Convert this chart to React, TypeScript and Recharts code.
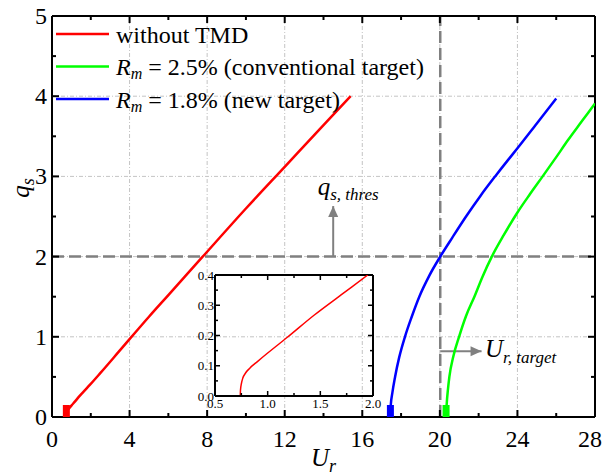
import React from "react";
import { LineChart, Line, XAxis, YAxis, ReferenceLine, ReferenceDot, Legend } from "recharts";

const FONT = "'Liberation Serif', 'Times New Roman', Tinos, 'DejaVu Serif', serif";

// main axes (ticks without a label are the minor ones)
const urTicks = [0, 2, 4, 6, 8, 10, 12, 14, 16, 18, 20, 22, 24, 26, 28];
const qsTicks = [0, 0.5, 1, 1.5, 2, 2.5, 3, 3.5, 4, 4.5, 5];
const urGrid = [4, 8, 12, 16, 20, 24];
const qsGrid = [1, 2, 3, 4];

// without TMD
const redUr = [0.74, 0.742, 0.75, 0.765, 0.79, 0.83, 0.9, 1.0, 1.19, 1.44, 1.7, 1.95, 2.5, 3.5, 5, 6, 7.7, 10, 12, 14, 15.4];
const redQs = [0, 0.02, 0.04, 0.06, 0.076, 0.092, 0.113, 0.142, 0.195, 0.267, 0.335, 0.4, 0.55, 0.83, 1.25, 1.52, 1.98, 2.6, 3.12, 3.64, 4.0];
// Rm = 2.5 %
const greenUr = [20.32, 20.35, 20.42, 20.49, 20.7, 20.99, 21.35, 21.78, 22.2, 22.68, 23.3, 24.0, 24.65, 25.3, 26.0, 26.6, 27.3, 28.0];
const greenQs = [0, 0.15, 0.35, 0.5, 0.76, 1.0, 1.26, 1.5, 1.75, 2.0, 2.27, 2.55, 2.78, 3.0, 3.24, 3.45, 3.68, 3.91];
// Rm = 1.8 %
const blueUr = [17.45, 17.47, 17.55, 17.69, 17.9, 18.2, 18.55, 18.94, 19.45, 20.02, 20.65, 21.35, 22.1, 22.85, 23.5, 24.0, 25.0, 26.0];
const blueQs = [0, 0.15, 0.3, 0.5, 0.74, 1.0, 1.25, 1.5, 1.76, 2.0, 2.24, 2.5, 2.76, 3.0, 3.2, 3.35, 3.66, 3.97];

const qsThres = 2;
const urTarget = 20.02;
const upArrowUr = [14.5, 14.5];
const upArrowQs = [2, 2.63];
const rightArrowUr = [20.02, 22.15];
const rightArrowQs = [0.82, 0.82];

// inset
const insetUrTicks = [0.5, 0.75, 1.0, 1.25, 1.5, 1.75, 2.0];
const insetQsTicks = [0, 0.05, 0.1, 0.15, 0.2, 0.25, 0.3, 0.35, 0.4];

const legendColors = ["#ff0000", "#00ff00", "#0000ff"];
const legendRm = [null, "2.5%", "1.8%"];
const legendNotes = ["without TMD", "(conventional target)", "(new target)"];

const toPoints = (xs: number[], ys: number[]) => xs.map((x, i) => ({ x, y: ys[i] }));
const red = toPoints(redUr, redQs);
const green = toPoints(greenUr, greenQs);
const blue = toPoints(blueUr, blueQs);
const upArrow = toPoints(upArrowUr, upArrowQs);
const rightArrow = toPoints(rightArrowUr, rightArrowQs);

const PLOT_TOP = 16;
const PLOT_RIGHT = 595;
const INSET_TOP = 15;
const INSET_RIGHT = 198;

const txt = { fontFamily: FONT, fill: "#000" };

function MainXTick(props: any) {
  const { x, y, payload } = props;
  const v = payload.value;
  const major = v % 4 === 0;
  const len = major ? 7 : 4;
  return (
    <g>
      <line x1={x} y1={y} x2={x} y2={y - len} stroke="#000" strokeWidth={2} />
      <line x1={x} y1={PLOT_TOP} x2={x} y2={PLOT_TOP + len} stroke="#000" strokeWidth={2} />
      {major && (
        <text x={Math.min(x, 590)} y={y + 30} textAnchor="middle" fontSize={24} style={txt}>{v}</text>
      )}
    </g>
  );
}

function MainYTick(props: any) {
  const { x, y, payload } = props;
  const v = payload.value;
  const major = Number.isInteger(v);
  const len = major ? 7 : 4;
  return (
    <g>
      <line x1={x} y1={y} x2={x + len} y2={y} stroke="#000" strokeWidth={2} />
      <line x1={PLOT_RIGHT - len} y1={y} x2={PLOT_RIGHT} y2={y} stroke="#000" strokeWidth={2} />
      {major && (
        <text x={x - 5} y={y + 8} textAnchor="end" fontSize={24} style={txt}>{v}</text>
      )}
    </g>
  );
}

function InsetXTick(props: any) {
  const { x, y, payload } = props;
  const v = payload.value;
  const major = Math.abs(v * 2 - Math.round(v * 2)) < 1e-6;
  const len = major ? 5 : 3;
  return (
    <g>
      <line x1={x} y1={y} x2={x} y2={y - len} stroke="#000" strokeWidth={1.5} />
      <line x1={x} y1={INSET_TOP} x2={x} y2={INSET_TOP + len} stroke="#000" strokeWidth={1.5} />
      {major && (
        <text x={x} y={y + 12} textAnchor="middle" fontSize={13} style={txt}>{v.toFixed(1)}</text>
      )}
    </g>
  );
}

function InsetYTick(props: any) {
  const { x, y, payload } = props;
  const v = payload.value;
  const major = Math.abs(v * 10 - Math.round(v * 10)) < 1e-6;
  const len = major ? 5 : 3;
  return (
    <g>
      <line x1={x} y1={y} x2={x + len} y2={y} stroke="#000" strokeWidth={1.5} />
      <line x1={INSET_RIGHT - len} y1={y} x2={INSET_RIGHT} y2={y} stroke="#000" strokeWidth={1.5} />
      {major && (
        <text x={x - 1} y={y + 4.5} textAnchor="end" fontSize={13} style={txt}>{v.toFixed(1)}</text>
      )}
    </g>
  );
}

const startMarker = (color: string) => (props: any) => {
  const { cx, cy, index } = props;
  if (index !== 0) return <g key={`d-${index}`} />;
  return <rect key={`d-${index}`} x={cx - 3.5} y={cy - 12} width={7} height={12} fill={color} />;
};

const arrowHead = (dir: "up" | "right") => (props: any) => {
  const { cx, cy, index } = props;
  if (index !== 1) return <g key={`a-${index}`} />;
  const pts =
    dir === "up"
      ? `${cx},${cy} ${cx - 5},${cy + 11} ${cx + 5},${cy + 11}`
      : `${cx},${cy} ${cx - 11},${cy - 5} ${cx - 11},${cy + 5}`;
  return <polygon key={`a-${index}`} points={pts} fill="#808080" />;
};

function UrTitle(props: any) {
  const { viewBox } = props;
  const x = viewBox.x + viewBox.width / 2;
  const y = viewBox.y + 49;
  return (
    <text x={x} y={y} textAnchor="middle" style={txt}>
      <tspan fontStyle="italic" fontSize={25}>U</tspan>
      <tspan fontStyle="italic" fontSize={18} dy={6}>r</tspan>
    </text>
  );
}

function QsTitle(props: any) {
  const { viewBox } = props;
  const x = viewBox.x + 17;
  const y = 188;
  return (
    <text x={x} y={y} textAnchor="middle" transform={`rotate(-90, ${x}, ${y})`} style={txt}>
      <tspan fontStyle="italic" fontSize={25}>q</tspan>
      <tspan fontStyle="italic" fontSize={18} dy={5}>s</tspan>
    </text>
  );
}

function ThresLabel(props: any) {
  return (
    <text x={props.cx} y={props.cy} style={txt}>
      <tspan fontStyle="italic" fontSize={25}>q</tspan>
      <tspan fontStyle="italic" fontSize={17} dy={5}>s, thres</tspan>
    </text>
  );
}

function TargetLabel(props: any) {
  return (
    <text x={props.cx} y={props.cy} style={txt}>
      <tspan fontStyle="italic" fontSize={25}>U</tspan>
      <tspan fontStyle="italic" fontSize={17} dy={6}>r, target</tspan>
    </text>
  );
}

function LegendBox() {
  return (
    <svg width={480} height={115} style={{ display: "block" }}>
      {legendColors.map((c, i) => {
        const base = 42.5 + i * 32.5;
        return (
          <g key={c}>
            <line x1={56} x2={109} y1={base - 8.5} y2={base - 8.5} stroke={c} strokeWidth={2.5} />
            {legendRm[i] === null ? (
              <text x={116} y={base} fontSize={24} style={txt}>{legendNotes[i]}</text>
            ) : (
              <text x={116} y={base} fontSize={24} style={txt}>
                <tspan fontStyle="italic">R</tspan>
                <tspan fontStyle="italic" fontSize={16} dy={4}>m</tspan>
                <tspan dy={-4}>{` = ${legendRm[i]} ${legendNotes[i]}`}</tspan>
              </text>
            )}
          </g>
        );
      })}
    </svg>
  );
}

export default function App() {
  return (
    <div style={{ position: "absolute", left: 0, top: 0, width: 605, height: 476, fontFamily: FONT }}>
      <LineChart width={605} height={476} margin={{ top: PLOT_TOP, right: 10, bottom: 19, left: 12 }}>
        <XAxis
          dataKey="x"
          type="number"
          domain={[0, 28]}
          allowDataOverflow
          ticks={urTicks}
          interval={0}
          height={40}
          tickSize={0}
          tickMargin={0}
          tickLine={false}
          tick={MainXTick}
          axisLine={{ stroke: "#000", strokeWidth: 2 }}
          label={{ content: UrTitle }}
        />
        <YAxis
          type="number"
          domain={[0, 5]}
          allowDataOverflow
          ticks={qsTicks}
          interval={0}
          width={40}
          tickSize={0}
          tickMargin={0}
          tickLine={false}
          tick={MainYTick}
          axisLine={{ stroke: "#000", strokeWidth: 2 }}
          label={{ content: QsTitle }}
        />
        {urGrid.map((v) => (
          <ReferenceLine key={`gx${v}`} x={v} stroke="#c4c4c4" strokeWidth={1} strokeDasharray="4 2 1 2" />
        ))}
        {qsGrid.map((v) => (
          <ReferenceLine key={`gy${v}`} y={v} stroke="#c4c4c4" strokeWidth={1} strokeDasharray="4 2 1 2" />
        ))}
        <ReferenceLine y={qsThres} stroke="#808080" strokeWidth={2.5} strokeDasharray="12 5" />
        <ReferenceLine x={urTarget} stroke="#808080" strokeWidth={2.5} strokeDasharray="12 5" />
        <ReferenceLine y={5} stroke="#000" strokeWidth={2} />
        <ReferenceLine x={28} stroke="#000" strokeWidth={2} />
        <Line data={upArrow} dataKey="y" stroke="#808080" strokeWidth={2} dot={arrowHead("up")} isAnimationActive={false} legendType="none" />
        <Line data={rightArrow} dataKey="y" stroke="#808080" strokeWidth={2} dot={arrowHead("right")} isAnimationActive={false} legendType="none" />
        <Line data={red} dataKey="y" type="monotone" stroke="#ff0000" strokeWidth={2.5} dot={startMarker("#ff0000")} isAnimationActive={false} />
        <Line data={green} dataKey="y" type="monotone" stroke="#00ff00" strokeWidth={2.5} dot={startMarker("#00ff00")} isAnimationActive={false} />
        <Line data={blue} dataKey="y" type="monotone" stroke="#0000ff" strokeWidth={2.5} dot={startMarker("#0000ff")} isAnimationActive={false} />
        <ReferenceDot x={13.7} y={2.77} r={0} shape={ThresLabel} />
        <ReferenceDot x={22.33} y={0.75} r={0} shape={TargetLabel} />
        <Legend
          verticalAlign="middle"
          layout="horizontal"
          content={() => <LegendBox />}
          wrapperStyle={{ left: 0, top: 0, width: 480, height: 115 }}
        />
      </LineChart>
      <div style={{ position: "absolute", left: 175, top: 260 }}>
        <LineChart width={215} height={160} margin={{ top: INSET_TOP, right: 17, bottom: 4, left: 16 }}>
          <XAxis
            dataKey="x"
            type="number"
            domain={[0.5, 2.0]}
            allowDataOverflow
            ticks={insetUrTicks}
            interval={0}
            height={20}
            tickSize={0}
            tickMargin={0}
            tickLine={false}
            tick={InsetXTick}
            axisLine={{ stroke: "#000", strokeWidth: 2 }}
          />
          <YAxis
            type="number"
            domain={[0, 0.4]}
            allowDataOverflow
            ticks={insetQsTicks}
            interval={0}
            width={24}
            tickSize={0}
            tickMargin={0}
            tickLine={false}
            tick={InsetYTick}
            axisLine={{ stroke: "#000", strokeWidth: 2 }}
          />
          <ReferenceLine y={0.4} stroke="#000" strokeWidth={2} />
          <ReferenceLine x={2.0} stroke="#000" strokeWidth={2} />
          <Line data={red} dataKey="y" type="monotone" stroke="#ff0000" strokeWidth={1.5} dot={false} isAnimationActive={false} />
        </LineChart>
      </div>
    </div>
  );
}
